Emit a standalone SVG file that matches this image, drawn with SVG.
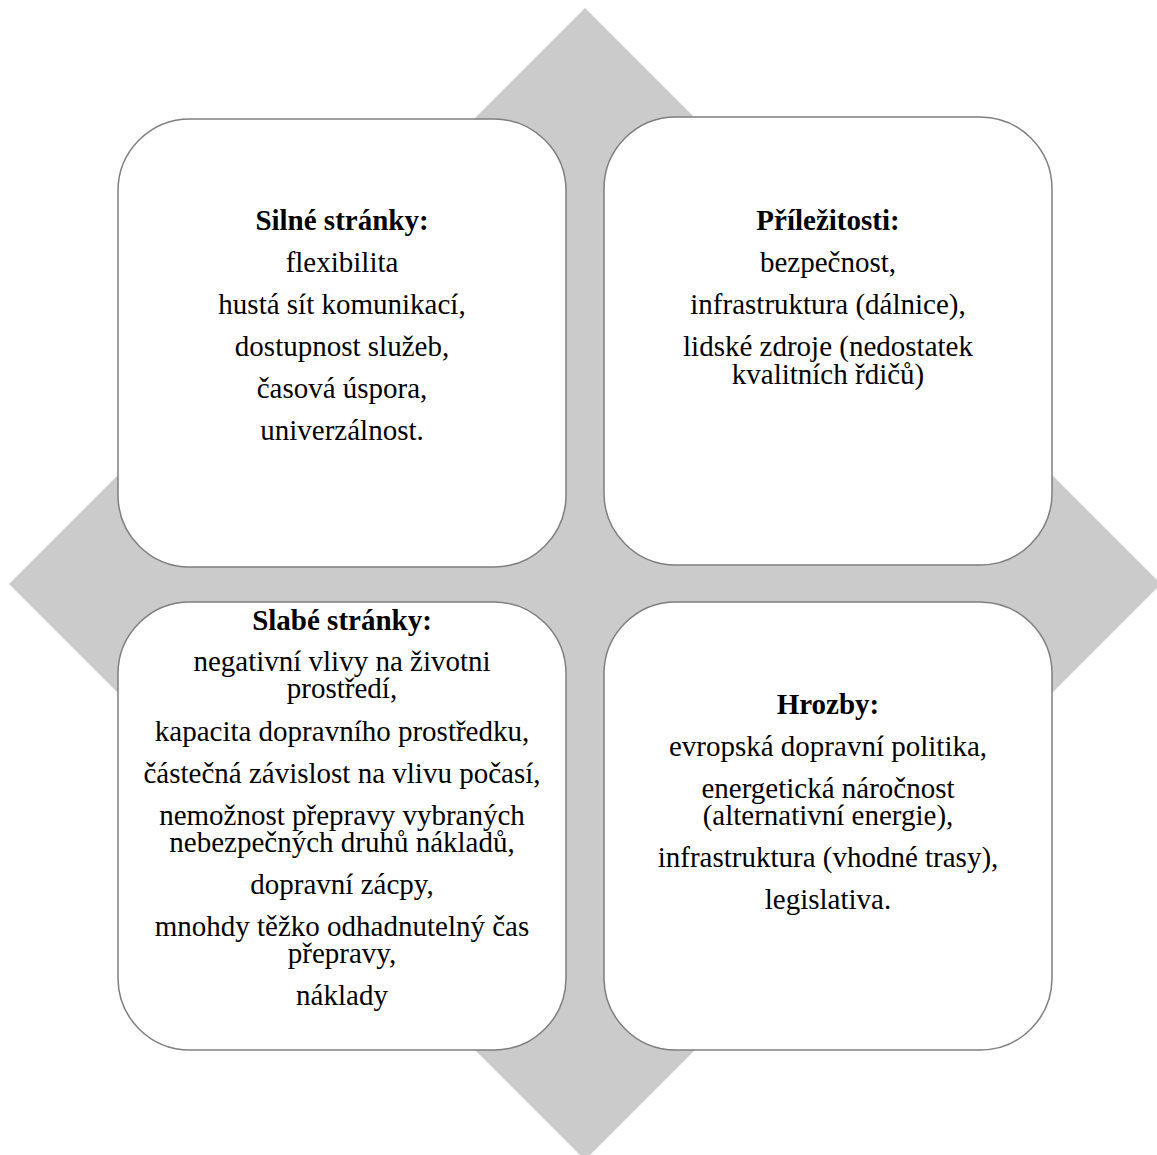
<svg xmlns="http://www.w3.org/2000/svg" width="1157" height="1155" viewBox="0 0 1157 1155">
  <style>
    .box { fill: #ffffff; stroke: #7f7f7f; stroke-width: 1.5; }
    .bg { fill: #cbcbcb; }
    text { font-family: "Liberation Serif", "Times New Roman", serif; font-size: 29px; fill: #000000; text-anchor: middle; }
    .head { font-weight: bold; }
  </style>
  <rect x="0" y="0" width="1157" height="1155" fill="#ffffff"/>
  <!-- background diamond -->
  <polygon class="bg" points="585,8 1161,584 585,1160 9,584"/>

  <g id="strengths">
    <rect class="box" x="118" y="119" width="448" height="448" rx="72" ry="72"/>
    <text class="head" x="342" y="230">Silné stránky:</text>
    <text x="342" y="272">flexibilita</text>
    <text x="342" y="314">hustá sít komunikací,</text>
    <text x="342" y="356">dostupnost služeb,</text>
    <text x="342" y="398">časová úspora,</text>
    <text x="342" y="440">univerzálnost.</text>
  </g>

  <g id="opportunities">
    <rect class="box" x="604" y="117" width="448" height="448" rx="72" ry="72"/>
    <text class="head" x="828" y="230">Příležitosti:</text>
    <text x="828" y="272">bezpečnost,</text>
    <text x="828" y="314">infrastruktura (dálnice),</text>
    <text x="828" y="356">lidské zdroje (nedostatek</text>
    <text x="828" y="384">kvalitních řdičů)</text>
  </g>

  <g id="weaknesses">
    <rect class="box" x="118" y="602" width="448" height="448" rx="72" ry="72"/>
    <text class="head" x="342" y="630">Slabé stránky:</text>
    <text x="342" y="671">negativní vlivy na životni</text>
    <text x="342" y="698">prostředí,</text>
    <text x="342" y="741">kapacita dopravního prostředku,</text>
    <text x="342" y="783">částečná závislost na vlivu počasí,</text>
    <text x="342" y="825">nemožnost přepravy vybraných</text>
    <text x="342" y="852">nebezpečných druhů nákladů,</text>
    <text x="342" y="894">dopravní zácpy,</text>
    <text x="342" y="936">mnohdy těžko odhadnutelný čas</text>
    <text x="342" y="963">přepravy,</text>
    <text x="342" y="1005">náklady</text>
  </g>

  <g id="threats">
    <rect class="box" x="604" y="602" width="448" height="448" rx="72" ry="72"/>
    <text class="head" x="828" y="714">Hrozby:</text>
    <text x="828" y="756">evropská dopravní politika,</text>
    <text x="828" y="798">energetická náročnost</text>
    <text x="828" y="825">(alternativní energie),</text>
    <text x="828" y="867">infrastruktura (vhodné trasy),</text>
    <text x="828" y="909">legislativa.</text>
  </g>

  <g id="connectors"/>
</svg>
